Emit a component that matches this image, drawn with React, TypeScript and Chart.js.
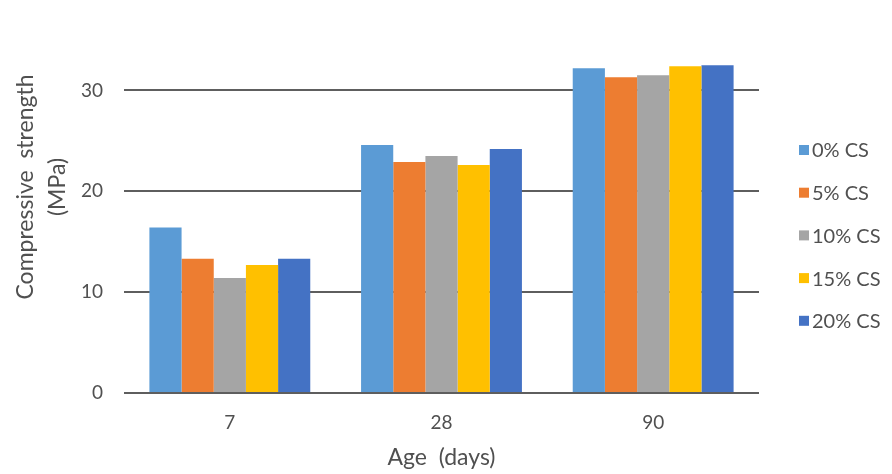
import React, { useEffect, useRef } from "react";
import { Chart, registerables } from "chart.js";

Chart.register(...registerables);

// Curing ages on the category axis
const ages = ["7", "28", "90"];

// Replacement levels shown in the legend
const mixLabels = ["0% CS", "5% CS", "10% CS", "15% CS", "20% CS"];

// Compressive strength (MPa) per mix, one value per age
const cs0 = [16.4, 24.6, 32.2];
const cs5 = [13.3, 22.9, 31.3];
const cs10 = [11.4, 23.5, 31.5];
const cs15 = [12.7, 22.6, 32.4];
const cs20 = [13.3, 24.2, 32.5];

const yTickValues = [0, 10, 20, 30];

const yTitleLines = ["Compressive  strength", "(MPa)"];
const xTitle = "Age  (days)";

const mixColors = ["#5B9BD5", "#ED7D31", "#A5A5A5", "#FFC000", "#4472C4"];

const FONT = "Lato, 'Open Sans', 'DejaVu Sans', sans-serif";
const TEXT = "#505050";

// Draws the rotated value-axis title, the category-axis title and the legend
const decorations = {
  id: "decorations",
  afterDraw(chart: any) {
    const { ctx, chartArea } = chart;
    ctx.save();
    ctx.fillStyle = TEXT;

    // y-axis title, two rotated lines
    ctx.font = `23px ${FONT}`;
    ctx.textAlign = "center";
    ctx.textBaseline = "middle";
    const cy = 187;
    const xs = [26, 58];
    yTitleLines.forEach((line, i) => {
      ctx.save();
      ctx.translate(xs[i], cy);
      ctx.rotate(-Math.PI / 2);
      ctx.fillText(line, 0, 0);
      ctx.restore();
    });

    // x-axis title
    ctx.font = `23px ${FONT}`;
    ctx.fillText(xTitle, (chartArea.left + chartArea.right) / 2, 458);

    // legend
    ctx.font = `20px ${FONT}`;
    ctx.textAlign = "left";
    chart.data.datasets.forEach((ds: any, i: number) => {
      const y = 150 + i * 42.7;
      ctx.fillStyle = ds.backgroundColor;
      ctx.fillRect(799, y - 5, 10, 10);
      ctx.fillStyle = TEXT;
      ctx.fillText(ds.label, 812, y + 1);
    });
    ctx.restore();
  },
};

export default function App() {
  const canvasRef = useRef<HTMLCanvasElement | null>(null);

  useEffect(() => {
    if (!canvasRef.current) return;
    const series = [cs0, cs5, cs10, cs15, cs20];
    const chart = new Chart(canvasRef.current, {
      type: "bar",
      data: {
        labels: ages,
        datasets: series.map((values, i) => ({
          label: mixLabels[i],
          data: values,
          backgroundColor: mixColors[i],
          borderWidth: 0,
          barPercentage: 1,
          categoryPercentage: 0.76,
        })),
      },
      options: {
        animation: false,
        responsive: true,
        maintainAspectRatio: false,
        layout: { padding: { left: 0, top: 40, right: 133, bottom: 0 } },
        plugins: {
          legend: { display: false },
          tooltip: { enabled: false },
        },
        scales: {
          x: {
            grid: { display: false },
            border: { display: false },
            ticks: {
              color: TEXT,
              font: { family: FONT, size: 19 },
              padding: 10,
            },
            afterFit: (scale: any) => {
              scale.height = 81;
            },
          },
          y: {
            min: 0,
            max: 35,
            afterBuildTicks: (scale: any) => {
              scale.ticks = yTickValues.map((v) => ({ value: v }));
            },
            grid: { color: "#5e5e5e", lineWidth: 2, drawTicks: false },
            border: { display: false },
            ticks: {
              color: TEXT,
              font: { family: FONT, size: 19 },
              padding: 21,
            },
            afterFit: (scale: any) => {
              scale.width = 124;
            },
          },
        },
      },
      plugins: [decorations],
    });
    return () => chart.destroy();
  }, []);

  return (
    <div style={{ position: "fixed", left: 0, top: 0, width: 892, height: 474, background: "#fff" }}>
      <canvas ref={canvasRef} />
    </div>
  );
}
